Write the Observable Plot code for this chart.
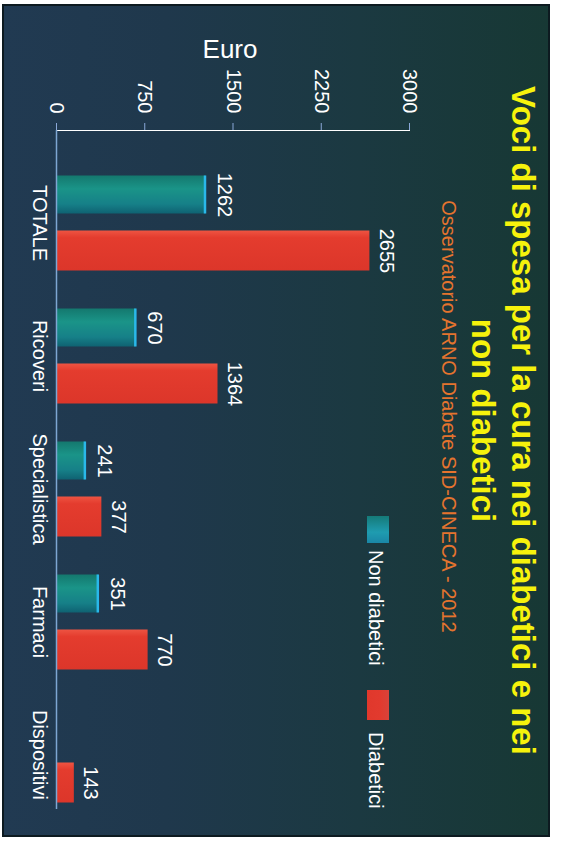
<!DOCTYPE html>
<html>
<head>
<meta charset="utf-8">
<script src="https://cdn.jsdelivr.net/npm/d3@7"></script>
<script src="https://cdn.jsdelivr.net/npm/@observablehq/plot@0.6"></script>
<style>
  html, body { margin: 0; padding: 0; background: #ffffff; }
  body { width: 565px; height: 843px; position: relative; overflow: hidden; font-family: "Liberation Sans", Arial, sans-serif; }
  #slide {
    position: absolute; left: 550px; top: 4px; width: 833px; height: 548px;
    transform-origin: 0 0; transform: rotate(90deg);
    background: linear-gradient(180deg, #173834 0%, #1b3941 35%, #1f384c 70%, #213a52 100%);
    box-shadow: inset 0 0 0 2px #0d1a20;
    overflow: hidden;
  }
  .abs { position: absolute; white-space: nowrap; }
  #title { left: 0; width: 833px; top: 7px; text-align: center; font-weight: bold; font-size: 33px; line-height: 40px; color: #f6f20c; }
  #subtitle { left: 0; width: 825px; top: 91px; text-align: center; font-size: 20px; line-height: 20px; color: #e5742e; }
  .legtext { font-size: 20px; line-height: 20px; color: #ffffff; top: 164px; }
  .sw { top: 161px; height: 22px; }
  #chart { position: absolute; left: 0; top: 0; }
  #chart g[aria-label^="y-axis"] line, #chart g[aria-label^="y-axis"] path { stroke: #8aa8d8; }
</style>
</head>
<body>
<div id="slide">
  <div id="title" class="abs">Voci di spesa per la cura nei diabetici e nei<br>non diabetici</div>
  <div id="subtitle" class="abs">Osservatorio ARNO Diabete SID-CINECA - 2012</div>
  <div class="abs sw" style="left:512px;width:27px;background:linear-gradient(90deg,#157a78,#1f9cb0 60%,#1a86a6);"></div>
  <div class="abs legtext" style="left:546px;">Non diabetici</div>
  <div class="abs sw" style="left:686px;width:30px;background:linear-gradient(180deg,#d8433a,#e23a2e 40%,#e0382c);"></div>
  <div class="abs legtext" style="left:728px;">Diabetici</div>
  <div id="chart"></div>
</div>
<script>
// ---- data ----
const categories = ["TOTALE", "Ricoveri", "Specialistica", "Farmaci", "Dispositivi"];
const seriesNames = ["Non diabetici", "Diabetici"];
const nonDiabetici = [1262, 670, 241, 351, null];
const diabetici = [2655, 1364, 377, 770, 143];
const yTicks = [0, 750, 1500, 2250, 3000];
const axisTitle = "Euro";

const teal = categories.map((c, i) => ({cat: c, series: seriesNames[0], value: nonDiabetici[i]})).filter(d => d.value != null);
const red = categories.map((c, i) => ({cat: c, series: seriesNames[1], value: diabetici[i]})).filter(d => d.value != null);

const svg = Plot.plot({
  width: 833,
  height: 548,
  marginLeft: 126,
  marginRight: 28,
  marginTop: 140,
  marginBottom: 55,
  style: {background: "transparent", color: "white", fontFamily: "'Liberation Sans', Arial, sans-serif", fontSize: "20px", overflow: "visible"},
  x: {domain: categories, range: [151.5, 816.5], padding: 0, tickSize: 0, tickPadding: 9, label: null},
  y: {domain: [0, 3000], ticks: yTicks, tickSize: 7, tickPadding: 10, tickFormat: d => String(d), label: null, line: true},
  marks: [
    Plot.barY(teal, {x: "cat", y: "value", fill: "url(#gTeal)", insetLeft: 19.5, insetRight: 75.5}),
    Plot.tickY(teal, {x: "cat", y: "value", stroke: "#2ab8ea", strokeWidth: 2.5, insetLeft: 19.5, insetRight: 75.5}),
    Plot.barY(red, {x: "cat", y: "value", fill: "url(#gRed)", insetLeft: 74.5, insetRight: 18.5}),
    Plot.text(teal, {x: "cat", y: "value", text: d => String(d.value), dx: -28, dy: -13, lineAnchor: "bottom", fill: "white", fontSize: 20}),
    Plot.text(red, {x: "cat", y: "value", text: d => String(d.value), dx: 28, dy: -11, lineAnchor: "bottom", fill: "white", fontSize: 20}),
    Plot.ruleY([0], {stroke: "#7ea6d2", strokeWidth: 1.5}),
    Plot.text([axisTitle], {frameAnchor: "left", dx: -73, dy: 3, rotate: -90, textAnchor: "middle", lineAnchor: "bottom", fill: "white", fontSize: 26})
  ]
});

const defs = d3.select(svg).insert("defs", ":first-child");
const gt = defs.append("linearGradient").attr("id", "gTeal").attr("x1", 0).attr("x2", 1).attr("y1", 0).attr("y2", 0);
gt.append("stop").attr("offset", "0%").attr("stop-color", "#14786e");
gt.append("stop").attr("offset", "35%").attr("stop-color", "#1a9488");
gt.append("stop").attr("offset", "75%").attr("stop-color", "#168088");
gt.append("stop").attr("offset", "100%").attr("stop-color", "#0f6272");
const gr = defs.append("linearGradient").attr("id", "gRed").attr("x1", 0).attr("x2", 1).attr("y1", 0).attr("y2", 0);
gr.append("stop").attr("offset", "0%").attr("stop-color", "#ee5442");
gr.append("stop").attr("offset", "18%").attr("stop-color", "#e43c2e");
gr.append("stop").attr("offset", "100%").attr("stop-color", "#dc362a");

document.getElementById("chart").appendChild(svg);
</script>
</body>
</html>
